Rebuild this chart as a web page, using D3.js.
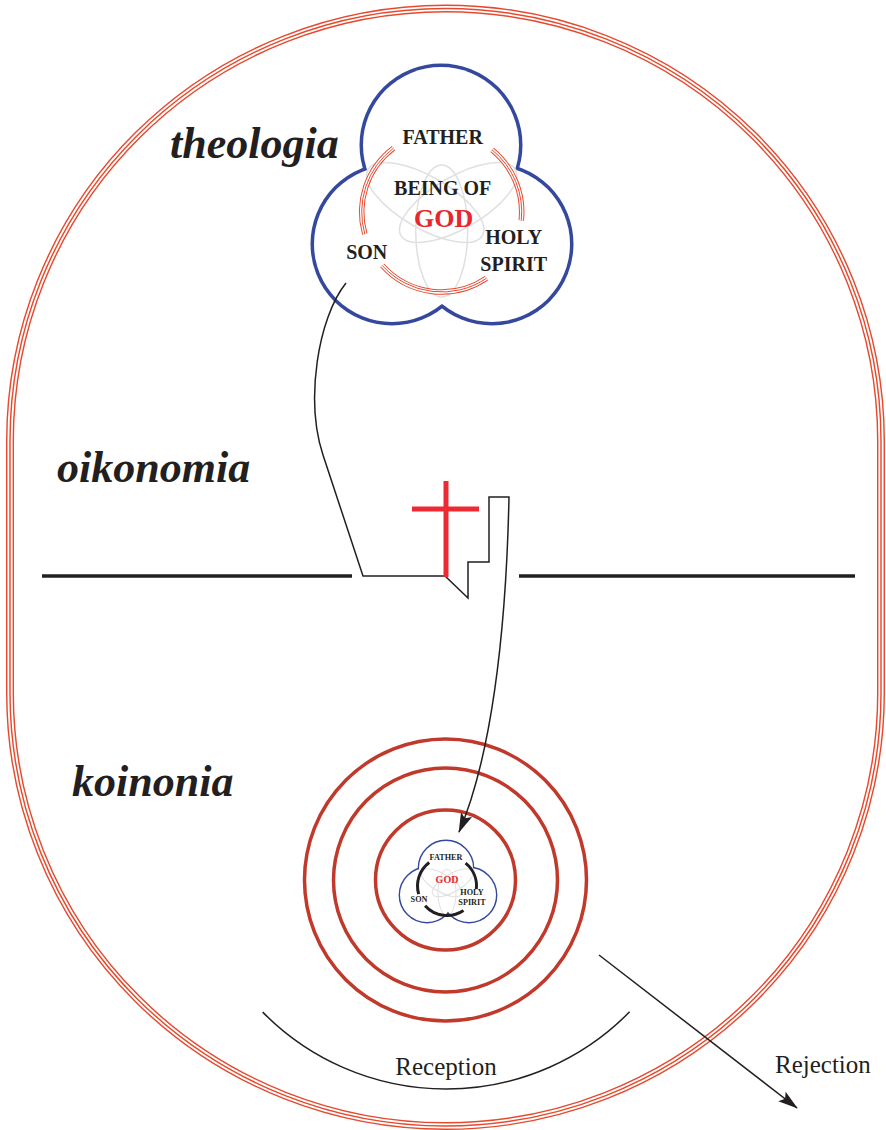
<!DOCTYPE html>
<html>
<head>
<meta charset="utf-8">
<script src="https://cdn.jsdelivr.net/npm/d3@7"></script>
<style>body{margin:0;background:#fff}</style>
</head>
<body>
<div id="chart"></div>
<script>
// diagram content
const realms = ["theologia", "oikonomia", "koinonia"];
const persons = [["FATHER"], ["SON"], ["HOLY", "SPIRIT"]];
const essence = ["BEING OF", "GOD"];
const rings = [1, 2, 3];
const responses = ["Reception", "Rejection"];

const width = 886;
const height = 1130;

const RED = "#e64a2e", RING = "#c0392b", BLUE = "#34499e", INK = "#231f20", GODRED = "#e8262c";
const serif = "'Liberation Serif', 'Times New Roman', serif";

const svg = d3.select("#chart").append("svg")
  .attr("width", width)
  .attr("height", height)
  .attr("viewBox", [0, 0, width, height]);

const defs = svg.append("defs");
defs.append("marker")
  .attr("id", "head")
  .attr("markerUnits", "userSpaceOnUse")
  .attr("viewBox", "0 -7 20 14")
  .attr("refX", 19).attr("refY", 0)
  .attr("markerWidth", 20).attr("markerHeight", 14)
  .attr("orient", "auto")
  .append("path").attr("d", "M0,-6L20,0L0,6L4,0Z").attr("fill", INK);

// three thin red lines
function triple(sel, d, w) {
  const g = sel.append("g").attr("fill", "none");
  g.append("path").attr("d", d).attr("stroke", RED).attr("stroke-width", w);
  g.append("path").attr("d", d).attr("stroke", "#fff").attr("stroke-width", w * 0.64);
  g.append("path").attr("d", d).attr("stroke", RED).attr("stroke-width", w * 0.18);
}

// outer boundary
const outerD = "M10,441 A435.5,432.5 0 0 1 881,441 L881,693 A435.5,433 0 0 1 10,693 Z";
triple(svg, outerD, 8);

// realm labels
const realmPos = [[170, 158], [57, 482], [72, 796]];
svg.append("g")
  .selectAll("text")
  .data(realms)
  .join("text")
  .attr("x", (d, i) => realmPos[i][0])
  .attr("y", (d, i) => realmPos[i][1])
  .attr("font-family", serif)
  .attr("font-style", "italic")
  .attr("font-weight", "bold")
  .attr("font-size", 44)
  .attr("fill", INK)
  .text(d => d);

// horizon
svg.append("g").attr("stroke", INK).attr("stroke-width", 3.5)
  .selectAll("line")
  .data([[42, 352], [519, 855]])
  .join("line")
  .attr("x1", d => d[0]).attr("x2", d => d[1])
  .attr("y1", 576).attr("y2", 576);

// concentric rings
const ringR = d3.scaleLinear().domain([1, 2, 3]).range([70, 112, 141]);
svg.append("g")
  .selectAll("circle")
  .data(rings)
  .join("circle")
  .attr("cx", 445.5).attr("cy", 880)
  .attr("r", d => ringR(d))
  .attr("fill", "none")
  .attr("stroke", RING)
  .attr("stroke-width", 3.5);

const arcAngles = [[164, 233], [-51, 6], [56, 138]];
const rad = a => a * Math.PI / 180;

function trinity(o) {
  const g = svg.append("g").attr("transform", `translate(${o.cx},${o.cy})`);
  g.append("g").selectAll("circle")
    .data(o.centers).join("circle")
    .attr("cx", d => d[0]).attr("cy", d => d[1]).attr("r", o.r)
    .attr("fill", "none").attr("stroke", BLUE).attr("stroke-width", o.sw * 2);
  g.append("g").selectAll("circle")
    .data(o.centers).join("circle")
    .attr("cx", d => d[0]).attr("cy", d => d[1]).attr("r", o.r)
    .attr("fill", "#fff");
  // faint venn of the being
  g.append("g").selectAll("ellipse")
    .data([90, 210, 330]).join("ellipse")
    .attr("transform", d => `rotate(${d}) translate(${o.eo},0)`)
    .attr("rx", o.erx).attr("ry", o.ery)
    .attr("fill", "none").attr("stroke", "#e0e0e0").attr("stroke-width", o.ew);
  // arcs between persons
  arcAngles.forEach(a => {
    const p = d3.path();
    p.arc(0, 0, o.ar, rad(a[0]), rad(a[1]), false);
    if (o.triple) triple(g, p.toString(), o.aw);
    else g.append("path").attr("d", p.toString()).attr("fill", "none")
      .attr("stroke", INK).attr("stroke-width", o.aw);
  });
  // labels
  const t = g.append("g").attr("font-family", serif).attr("font-weight", "bold")
    .attr("text-anchor", "middle").attr("fill", INK).attr("font-size", o.fs);
  persons.forEach((lines, i) => {
    lines.forEach((s, j) => {
      t.append("text")
        .attr("x", o.lab[i][0])
        .attr("y", o.lab[i][1] + j * o.lh)
        .text(s);
    });
  });
  const ess = o.showBeing ? essence : essence.slice(1);
  ess.forEach(s => {
    const isGod = s === "GOD";
    t.append("text")
      .attr("x", isGod ? o.god[0] : o.being[0])
      .attr("y", isGod ? o.god[1] : o.being[1])
      .attr("fill", isGod ? GODRED : INK)
      .attr("font-size", isGod ? o.gfs : o.fs)
      .text(s);
  });
}

// theologia
trinity({
  cx: 441.7, cy: 212,
  centers: [[-0.7, -67], [-49.7, 32], [50.3, 32]],
  r: 78, sw: 3.5,
  eo: 19, erx: 66, ery: 26, ew: 1.5,
  ar: 80, aw: 5.5, triple: true,
  fs: 20, gfs: 26, lh: 27,
  lab: [[1, -68], [-75, 47], [72, 32]],
  being: [1, -17], god: [2, 15], showBeing: true
});

// koinonia (small)
trinity({
  cx: 447, cy: 886,
  centers: [[-1, -18], [-20, 9], [22, 9]],
  r: 27, sw: 1.4,
  eo: 6.5, erx: 23, ery: 9, ew: 1,
  ar: 29.5, aw: 3, triple: false,
  fs: 8.2, gfs: 10, lh: 10,
  lab: [[-1, -26], [-28, 16], [25, 9]],
  being: [0, 0], god: [0, -3], showBeing: false
});

// path of incarnation down to koinonia
svg.append("path")
  .attr("d", "M346,283 C318,318 305,400 323,455 L363,576 L445,576 L468,598 L468,562 L489,562 L489,497 L509,497 C506,640 490,760 459,832")
  .attr("fill", "none")
  .attr("stroke", INK)
  .attr("stroke-width", 1.5)
  .attr("marker-end", "url(#head)");

// cross
svg.append("g").attr("stroke", "#ed2a32").attr("stroke-width", 5)
  .call(g => g.append("line").attr("x1", 446).attr("x2", 446).attr("y1", 481).attr("y2", 577))
  .call(g => g.append("line").attr("x1", 412).attr("x2", 479).attr("y1", 509).attr("y2", 509));

// reception arc
const rec = d3.path();
rec.arc(446, 832, 257, rad(44.4), rad(135.5), false);
svg.append("path").attr("d", rec.toString())
  .attr("fill", "none").attr("stroke", INK).attr("stroke-width", 1.5);

// rejection arrow
svg.append("line")
  .attr("x1", 599).attr("y1", 955).attr("x2", 797).attr("y2", 1108)
  .attr("stroke", INK).attr("stroke-width", 1.5)
  .attr("marker-end", "url(#head)");

svg.append("g")
  .attr("font-family", serif).attr("font-size", 25).attr("fill", INK)
  .selectAll("text")
  .data(responses)
  .join("text")
  .attr("x", (d, i) => [446, 775][i])
  .attr("y", (d, i) => [1075, 1073][i])
  .attr("text-anchor", (d, i) => i === 0 ? "middle" : "start")
  .text(d => d);
</script>
</body>
</html>
